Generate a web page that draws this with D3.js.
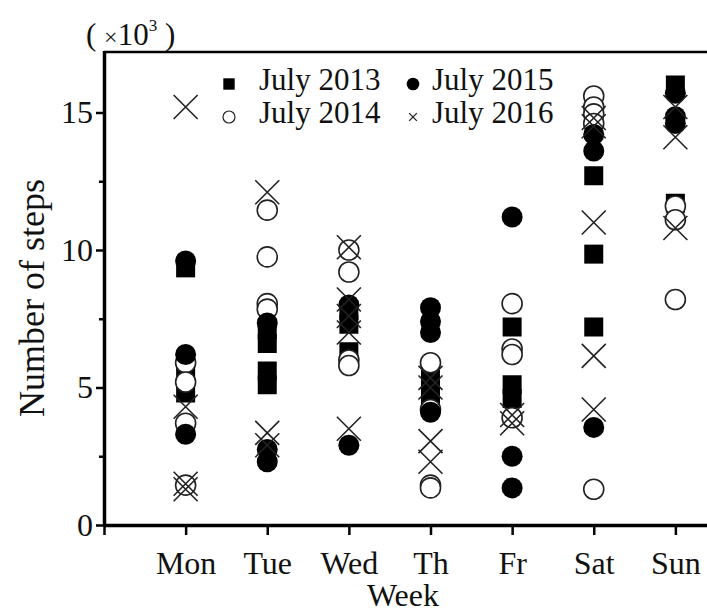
<!DOCTYPE html>
<html>
<head>
<meta charset="utf-8">
<script src="https://cdn.jsdelivr.net/npm/d3@7"></script>
<style>
    body { margin: 0; background: #fff; }
    text { font-family: "Liberation Serif", "DejaVu Serif", serif; fill: #111; }
</style>
</head>
<body>
<svg id="chart" width="707" height="612"></svg>
<script>
// categories (x = 1..7)
const days = ["Mon", "Tue", "Wed", "Th", "Fr", "Sat", "Sun"];
const yTicks = [0, 5, 10, 15];
const yMinorTicks = [2.5, 7.5, 12.5];

// step counts in thousands, one list per day
const july2013 = [
    [9.35, 5.4, 4.8],
    [7.1, 6.6, 5.6, 5.1],
    [7.8, 7.3, 6.3],
    [5.3, 4.7, 4.3],
    [7.2, 5.1, 4.6],
    [15.0, 12.7, 9.85, 7.2],
    [16.0, 11.7]
];
const july2014 = [
    [5.9, 5.2, 3.7, 1.45],
    [11.45, 9.75, 8.05, 7.85],
    [10.0, 9.2, 6.0, 5.8],
    [5.9, 4.2, 1.45, 1.35],
    [8.05, 6.4, 6.2, 3.9],
    [15.6, 15.2, 14.95, 14.6, 1.3],
    [11.6, 11.1, 8.2]
];
const july2015 = [
    [9.6, 6.2, 3.3],
    [7.35, 2.75, 2.3],
    [8.0, 2.9],
    [7.9, 7.4, 7.0, 4.1],
    [11.2, 2.5, 1.35],
    [14.2, 13.6, 3.55],
    [15.7, 14.85, 14.6]
];
const july2016 = [
    [15.2, 4.3, 1.5, 1.3],
    [12.1, 3.35, 2.9],
    [10.1, 8.2, 7.6, 7.0, 3.5],
    [5.35, 5.0, 3.05, 2.3],
    [4.0, 3.7],
    [14.8, 14.5, 11.0, 6.15, 4.2],
    [15.2, 14.1, 10.8]
];

const series = [
    {name: "July 2013", shape: "square", values: july2013},
    {name: "July 2014", shape: "open", values: july2014},
    {name: "July 2015", shape: "dot", values: july2015},
    {name: "July 2016", shape: "cross", values: july2016}
];

const svg = d3.select("#chart");
const plotLeft = 104, plotTop = 52, plotBottom = 525;

const x = d3.scaleLinear().domain([0, 8]).range([plotLeft, 757]);
const y = d3.scaleLinear().domain([0, 17.2]).range([plotBottom, plotTop]);

// draw one marker of the given shape at (cx, cy)
function marker(g, shape, cx, cy, s) {
    if (shape === "square") {
        g.append("rect")
            .attr("x", cx - s * 0.95).attr("y", cy - s * 0.95)
            .attr("width", s * 1.9).attr("height", s * 1.9)
            .attr("fill", "#000");
    } else if (shape === "open") {
        g.append("circle").attr("cx", cx).attr("cy", cy).attr("r", s)
            .attr("fill", "#fff").attr("stroke", "#222").attr("stroke-width", s > 6 ? 1.6 : 1.2);
    } else if (shape === "dot") {
        g.append("circle").attr("cx", cx).attr("cy", cy).attr("r", s * 1.05)
            .attr("fill", "#000");
    } else {
        let h = s * 1.2;
        g.append("path")
            .attr("d", `M${cx - h},${cy - h}L${cx + h},${cy + h}M${cx - h},${cy + h}L${cx + h},${cy - h}`)
            .attr("stroke", "#222").attr("stroke-width", s > 6 ? 1.6 : 1.3).attr("fill", "none");
    }
}

// points
const plot = svg.append("g");
series.forEach(s => {
    const g = plot.append("g").attr("class", s.name);
    s.values.forEach((vals, i) => {
        vals.forEach(v => marker(g, s.shape, x(i + 1), y(v), 10));
    });
});

// frame top
svg.append("line")
    .attr("x1", plotLeft).attr("x2", 707).attr("y1", plotTop).attr("y2", plotTop)
    .attr("stroke", "#000").attr("stroke-width", 2.5);

// y axis
const yAxis = svg.append("g")
    .attr("transform", `translate(${plotLeft},0)`)
    .call(d3.axisLeft(y).tickValues(yTicks).tickSize(8).tickSizeOuter(0).tickPadding(3));
svg.append("g")
    .attr("transform", `translate(${plotLeft},0)`)
    .call(d3.axisLeft(y).tickValues(yMinorTicks).tickSize(5).tickFormat(""))
    .select(".domain").remove();

// x axis
const xAxis = svg.append("g")
    .attr("transform", `translate(0,${plotBottom})`)
    .call(d3.axisBottom(x).tickValues(d3.range(0, 8)).tickSize(10).tickSizeOuter(0)
        .tickPadding(16).tickFormat(d => days[d - 1] || ""));

svg.selectAll(".tick line").attr("stroke", "#000").attr("stroke-width", 2.5);
svg.selectAll(".domain").attr("stroke", "#000").attr("stroke-width", 3.5);
yAxis.select(".domain").attr("d", `M0.5,${plotTop - 1}V${plotBottom}`);
xAxis.select(".domain").attr("d", `M${plotLeft},0.5H707`);
svg.selectAll(".tick text").attr("font-size", 32)
    .attr("font-family", "Liberation Serif").attr("fill", "#111");

// axis titles
svg.append("text")
    .attr("transform", "translate(44,298) rotate(-90)")
    .attr("text-anchor", "middle").attr("font-size", 36)
    .text("Number of steps");
svg.append("text")
    .attr("x", 403).attr("y", 606)
    .attr("text-anchor", "middle").attr("font-size", 32)
    .text("Week");

const unit = svg.append("text").attr("x", 86).attr("y", 45).attr("font-size", 31);
unit.append("tspan").text("( ");
unit.append("tspan").attr("font-size", 24).text("×");
unit.append("tspan").text("10");
unit.append("tspan").attr("font-size", 17).attr("dy", -14).text("3");
unit.append("tspan").attr("dy", 14).text(" )");

// legend
const legendPos = [
    {mx: 229, my: 84, tx: 259, ty: 90},
    {mx: 229, my: 117, tx: 259, ty: 123},
    {mx: 413, my: 84, tx: 432, ty: 90},
    {mx: 413, my: 117, tx: 432, ty: 123}
];
const legend = svg.append("g");
series.forEach((s, i) => {
    const p = legendPos[i];
    marker(legend, s.shape, p.mx, p.my, s.shape === "cross" ? 3.2 : 6);
    legend.append("text").attr("x", p.tx).attr("y", p.ty)
        .attr("font-size", 31).text(s.name);
});
</script>
</body>
</html>
